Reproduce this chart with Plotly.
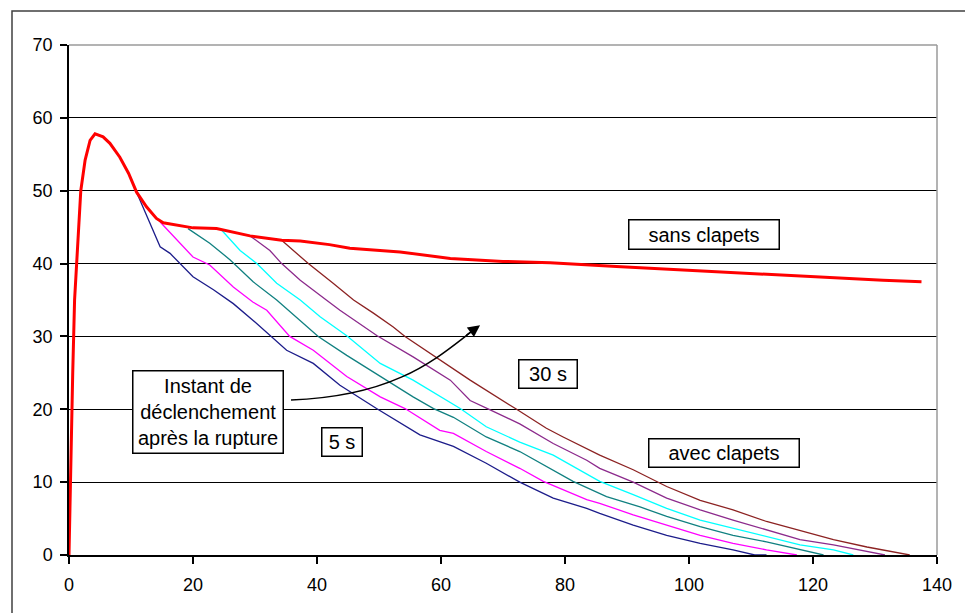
import plotly.graph_objects as go

# ---- data ----
t_sans = [0, 0.2, 0.4, 0.6, 0.9, 1.2, 1.5, 1.9, 2.6, 3.4, 4.2, 5.5, 6.6, 8.2, 9.6, 10.9, 12.5,
          14.1, 15.2, 17.4, 20, 23.8, 29.2, 34.3, 37.3, 42, 45.3, 53.4, 61.5, 70, 77.6, 88.3,
          99.1, 109.8, 120.6, 131.3, 137.5]
p_sans = [0, 9, 17.5, 25, 35, 40, 43.2, 50, 54.2, 56.9, 57.8, 57.4, 56.5, 54.6, 52.4, 49.8, 47.8,
          46.2, 45.6, 45.3, 44.9, 44.8, 43.8, 43.2, 43.1, 42.6, 42.1, 41.6, 40.7, 40.3, 40.1, 39.6,
          39.1, 38.6, 38.2, 37.7, 37.5]

t_5s = [10.9, 12.0, 13.6, 14.7, 16.3, 17.9, 20.0, 23.3, 26.5, 29.7, 32.4, 35.1, 39.4, 43.7, 49.6,
        56.6, 62.0, 67.3, 72.7, 78.1, 83.5, 85.6, 91.0, 96.4, 101.8, 107.1, 110.6, 112.5]
p_5s = [49.8, 47.6, 44.6, 42.3, 41.4, 40.0, 38.2, 36.4, 34.5, 32.2, 30.2, 28.1, 26.3, 23.3, 20.1,
        16.5, 14.9, 12.6, 10.0, 7.8, 6.4, 5.7, 4.1, 2.7, 1.6, 0.7, 0.0, 0.0]

t_10s = [14.7, 17.4, 20.0, 22.7, 26.5, 29.7, 31.9, 35.6, 39.4, 44.8, 50.2, 54.2, 59.8, 62.0, 67.3,
         72.7, 76.5, 83.5, 85.6, 91.0, 96.4, 101.8, 107.1, 112.5, 117.4]
p_10s = [45.7, 43.3, 40.9, 39.8, 36.8, 34.7, 33.6, 30.0, 28.1, 24.5, 21.7, 20.1, 17.1, 16.7, 14.2,
         11.9, 10.1, 7.6, 7.1, 5.5, 4.1, 2.7, 1.6, 0.7, 0.0]

t_15s = [19.2, 22.7, 26.0, 29.7, 33.5, 37.3, 40.2, 44.8, 50.2, 55.5, 58.8, 62.0, 67.3, 72.7, 81.3,
         86.7, 92.1, 96.4, 101.8, 107.1, 112.5, 117.9, 121.7]
p_15s = [44.8, 42.8, 40.5, 37.5, 35.0, 32.2, 30.0, 27.4, 24.5, 21.7, 20.1, 18.9, 16.2, 14.2, 10.1,
         8.0, 6.6, 5.3, 3.9, 2.7, 1.8, 0.7, 0.0]

t_20s = [24.6, 27.6, 30.3, 33.5, 37.3, 40.5, 44.8, 50.2, 55.5, 60.1, 63.1, 67.3, 72.7, 78.1, 85.6,
         91.0, 96.4, 101.8, 107.1, 112.5, 117.9, 123.3, 126.5]
p_20s = [44.6, 41.8, 40.0, 37.3, 35.0, 32.7, 30.1, 26.3, 24.0, 21.7, 20.1, 17.6, 15.5, 13.7, 10.1,
         8.3, 6.4, 4.8, 3.7, 2.5, 1.4, 0.7, 0.0]

t_25s = [29.2, 32.4, 34.3, 37.3, 41.5, 43.7, 49.7, 55.5, 61.5, 64.7, 67.5, 72.7, 78.1, 83.5, 85.6,
         91.0, 96.4, 101.8, 107.1, 112.5, 117.9, 123.3, 128.7, 131.6]
p_25s = [43.8, 41.8, 40.0, 37.7, 35.0, 33.6, 30.1, 27.2, 24.0, 21.2, 20.1, 18.0, 15.3, 13.0, 11.9,
         10.0, 7.8, 6.2, 4.8, 3.4, 2.1, 1.4, 0.5, 0.0]

t_30s = [34.3, 36.7, 38.6, 42.6, 45.9, 49.1, 52.3, 54.2, 60.4, 64.7, 72.0, 77.0, 79.7, 85.6, 91.0,
         96.4, 101.8, 107.1, 112.5, 117.9, 123.3, 128.7, 131.3, 134.0, 135.6]
p_30s = [43.2, 41.4, 40.0, 37.3, 35.0, 33.2, 31.3, 30.0, 26.5, 24.0, 20.1, 17.4, 16.2, 13.7, 11.7,
         9.4, 7.5, 6.2, 4.6, 3.4, 2.1, 1.1, 0.7, 0.2, 0.0]

x_ticks = [0, 20, 40, 60, 80, 100, 120, 140]
y_ticks = [0, 10, 20, 30, 40, 50, 60, 70]

FONT = "Liberation Sans, Arial, sans-serif"

fig = go.Figure()

series = [
    (t_5s, p_5s, "#1c1c8a"),
    (t_10s, p_10s, "#ff00ff"),
    (t_15s, p_15s, "#108080"),
    (t_20s, p_20s, "#00ffff"),
    (t_25s, p_25s, "#8c2a8c"),
    (t_30s, p_30s, "#8c2222"),
]
for xs, ys, col in series:
    fig.add_trace(go.Scatter(x=xs, y=ys, mode="lines", line=dict(color=col, width=1.3),
                             showlegend=False, hoverinfo="skip"))

fig.add_trace(go.Scatter(x=t_sans, y=p_sans, mode="lines", line=dict(color="#ff0000", width=3),
                         showlegend=False, hoverinfo="skip"))

def box(text, x, y, w, h):
    fig.add_annotation(x=x, y=y, xref="x", yref="y", text=text, showarrow=False,
                       font=dict(family=FONT, size=20, color="#000"),
                       bgcolor="white", bordercolor="#000", borderwidth=1.5, borderpad=0,
                       width=w, height=h, align="center")

box("sans clapets", 102.4, 44.0, 149, 28)
box("avec clapets", 105.6, 14.0, 149, 27)
box("30 s", 77.2, 24.8, 57, 27)
box("5 s", 44.0, 15.5, 39, 27)
box("Instant de<br>déclenchement<br>après la rupture", 22.4, 19.6, 149, 81)

# curved arrow
fig.add_shape(type="path", xref="x", yref="y",
              path="M 35.81,21.27 C 53.39,21.82 59.84,27.45 65.6,31.1",
              line=dict(color="#000", width=1.5))
fig.add_annotation(x=66.3, y=31.55, xref="x", yref="y", ax=-15, ay=11, text="",
                   showarrow=True, arrowhead=2, arrowsize=1.6, arrowwidth=1.5, arrowcolor="#000")

# gray top / right plot border
fig.add_shape(type="line", xref="paper", yref="paper", x0=0, x1=1, y0=1, y1=1,
              line=dict(color="#9a9a9a", width=1.5), layer="above")
fig.add_shape(type="line", xref="paper", yref="paper", x0=1, x1=1, y0=0, y1=1,
              line=dict(color="#9a9a9a", width=1.5), layer="above")
# outer chart frame
fig.add_shape(type="rect", xref="paper", yref="paper",
              x0=(12 - 69) / 868, x1=(970 - 69) / 868, y0=(555 - 640) / 510, y1=(555 - 11) / 510,
              line=dict(color="#404040", width=1.5), fillcolor="rgba(0,0,0,0)")

# page body has an 8px margin, so the figure is sized/offset to compensate
fig.update_layout(
    width=965, height=605,
    margin=dict(l=61, r=36, t=37, b=58),
    paper_bgcolor="white", plot_bgcolor="white",
    font=dict(family=FONT, size=18, color="#000"),
    showlegend=False,
    xaxis=dict(range=[0, 140], tickvals=x_ticks, ticktext=[str(v) for v in x_ticks],
               showgrid=False, zeroline=False, showline=True, linecolor="#000", linewidth=1.5,
               ticks="outside", ticklen=7, tickwidth=1.5, tickcolor="#000",
               ticklabelstandoff=6,
               tickfont=dict(family=FONT, size=18, color="#000")),
    yaxis=dict(range=[0, 70], tickvals=y_ticks, ticktext=[str(v) for v in y_ticks],
               showgrid=True, gridcolor="#000", gridwidth=1.2, zeroline=False,
               showline=True, linecolor="#000", linewidth=1.5,
               ticks="outside", ticklen=7, tickwidth=1.5, tickcolor="#000",
               ticklabelstandoff=4,
               tickfont=dict(family=FONT, size=18, color="#000")),
)

fig.write_html("out.html")
